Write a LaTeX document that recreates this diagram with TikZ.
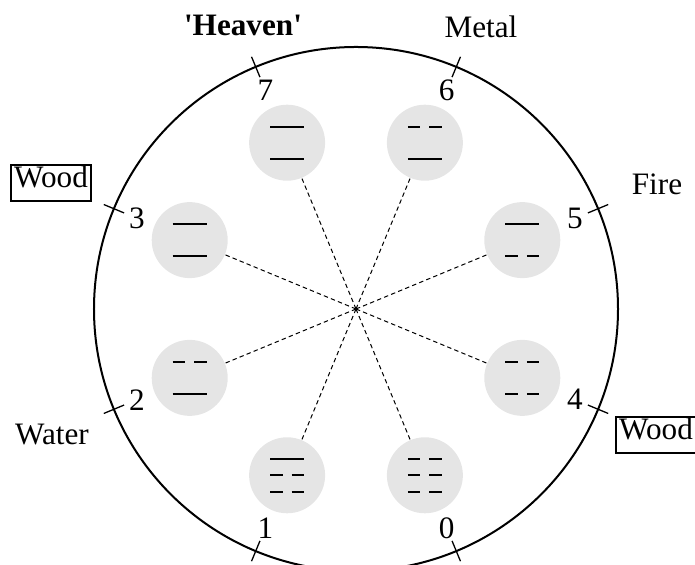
\documentclass[tikz,border=0pt]{standalone}
\usepackage{fontspec}
\setmainfont{Liberation Serif}

% one trigram line: #1 disk name, #2 vertical offset
\newcommand{\yang}[2]{\draw[yao] ([shift={(-17,#2)}]#1.center) -- ++(34,0);}
\newcommand{\yin}[2]{\draw[yao] ([shift={(-17,#2)}]#1.center) -- ++(12.5,0) ++(9,0) -- ++(12.5,0);}

\begin{document}
\begin{tikzpicture}[x=0.5pt, y=0.5pt, font=\fontsize{15.6}{18}\selectfont,
  disk/.style={circle, fill=gray!20, minimum size=38pt, inner sep=0pt},
  yao/.style={line width=0.85pt},
  spoke/.style={line width=0.5pt, dash pattern=on 2.2pt off 1.6pt},
  tickmark/.style={line width=0.65pt},
  boxed/.style={draw, line width=1pt, inner xsep=1.5pt, inner ysep=4.5pt, text height=0.7em, text depth=0.2em}]

  % Frame
  \useasboundingbox (-356,-256) rectangle (339,309);
  \clip (-356,-256) rectangle (339,309);

  % Circle
  \coordinate (c) at (0,0);
  \draw[line width=1pt] (c) circle[radius=262];

  % Disks, numbers, ticks and spokes
  \foreach \n/\a in {0/292.5, 1/247.5, 2/202.5, 3/157.5, 4/337.5, 5/22.5, 6/67.5, 7/112.5} {
    \node[disk] (d\n) at (\a:180) {};
    \node (l\n) at (\a:237) {\n};
    \draw[tickmark] (\a:251) -- (\a:273);
    \draw[spoke] (c) -- (d\n);
  }

  % Trigram lines
  \yang{d7}{16} \yang{d7}{-16}
  \yin{d6}{16} \yang{d6}{-16}
  \yang{d5}{16} \yin{d5}{-16}
  \yin{d4}{16} \yin{d4}{-16}
  \yang{d3}{16} \yang{d3}{-16}
  \yin{d2}{16} \yang{d2}{-16}
  \yang{d1}{16.5} \yin{d1}{0} \yin{d1}{-16.5}
  \yin{d0}{16.5} \yin{d0}{0} \yin{d0}{-16.5}

  % Outer labels
  \node[font=\fontsize{15.6}{18}\selectfont\bfseries] (heaven) at (-113,284) {\textquotesingle Heaven\textquotesingle};
  \node (metal) at (125,282) {Metal};
  \node (fire) at (301,125) {Fire};
  \node[boxed] (woodA) at (-305,126) {Wood};
  \node (water) at (-304,-126) {Water};
  \node[boxed] (woodB) at (300,-126) {Wood};
\end{tikzpicture}
\end{document}
